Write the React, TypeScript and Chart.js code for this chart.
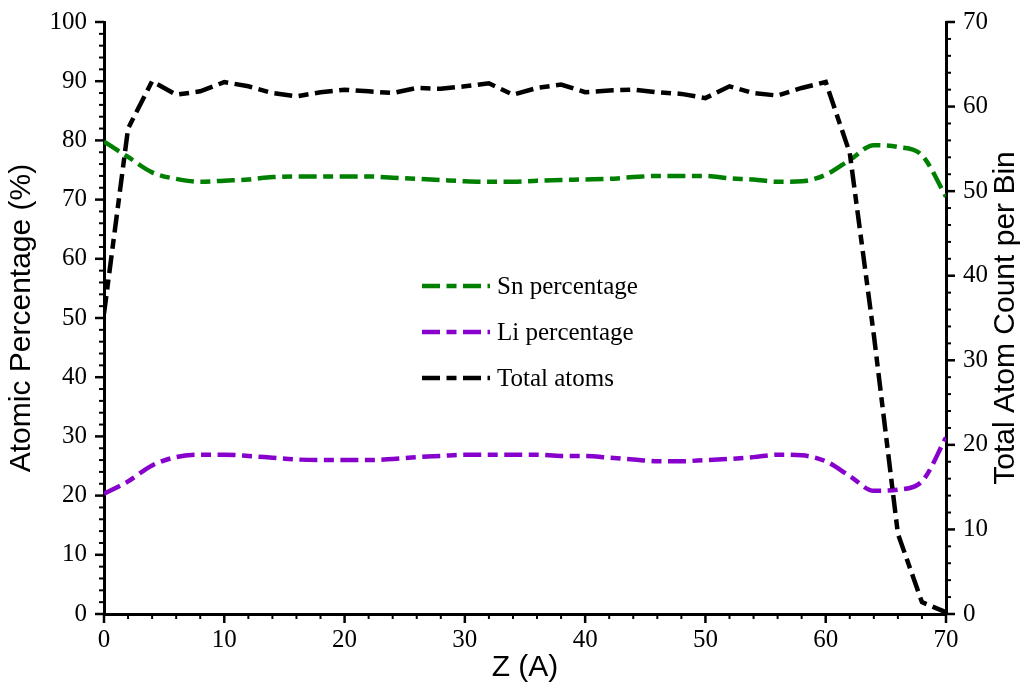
import React, { useEffect, useRef } from "react";
import { Chart, registerables } from "chart.js";

Chart.register(...registerables);

// ---- Data ----
const zValues = [
  0, 2, 4, 6, 8, 10, 12, 14, 16, 18, 20, 22, 24, 26, 28, 30, 32, 34,
  36, 38, 40, 42, 44, 46, 48, 50, 52, 54, 56, 58, 60, 62, 64, 66, 68, 70,
];

const snPercentage = [
  79.8, 77.2, 74.6, 73.5, 73.0, 73.2, 73.4, 73.8, 73.9, 73.9, 73.9, 73.9,
  73.7, 73.5, 73.3, 73.1, 73.0, 73.0, 73.2, 73.3, 73.4, 73.5, 73.8, 74.0,
  74.0, 74.0, 73.6, 73.4, 73.0, 73.1, 74.2, 76.7, 79.2, 78.9, 77.5, 70.5,
];

const liPercentage = [
  20.3, 22.4, 25.1, 26.5, 26.9, 26.9, 26.7, 26.4, 26.1, 26.0, 26.0, 26.0,
  26.2, 26.5, 26.7, 26.9, 26.9, 26.9, 26.9, 26.7, 26.7, 26.4, 26.1, 25.8,
  25.8, 26.0, 26.2, 26.5, 26.9, 26.8, 25.8, 23.3, 20.8, 21.0, 22.4, 29.8,
];

const totalAtoms = [
  35.5, 57.4, 63.0, 61.4, 61.8, 62.9, 62.4, 61.6, 61.2, 61.7, 62.0, 61.8,
  61.6, 62.2, 62.1, 62.4, 62.75, 61.4, 62.2, 62.6, 61.7, 61.9, 62.0, 61.7,
  61.5, 61.0, 62.4, 61.6, 61.3, 62.2, 62.9, 54.5, 33.0, 9.5, 1.4, 0.2,
];

const seriesLabels = ["Sn percentage", "Li percentage", "Total atoms"];
const seriesColors = ["#008000", "#8800cc", "#000000"];

const xRange = [0, 70];
const leftRange = [0, 100];
const rightRange = [0, 70];
const majorStep = 10;
const minorStep = 2;

const xTitle = "Z (A)";
const leftTitle = "Atomic Percentage (%)";
const rightTitle = "Total Atom Count per Bin";

// ---- Styles ----
const SERIF = '"Liberation Serif", "Times New Roman", serif';
const SANS = '"Liberation Sans", Arial, sans-serif';
const DASH = [18, 6.5, 10, 6.5];
const LINE_W = 4.5;

const ticksPlugin = {
  id: "axisTicks",
  afterDraw(chart: any) {
    const ctx = chart.ctx;
    const { x, y, y1 } = chart.scales;
    ctx.save();
    ctx.strokeStyle = "#000";
    ctx.lineCap = "butt";
    const drawLine = (x0: number, y0: number, x1: number, y1_: number, w: number) => {
      ctx.lineWidth = w;
      ctx.beginPath();
      ctx.moveTo(x0, y0);
      ctx.lineTo(x1, y1_);
      ctx.stroke();
    };
    for (let v = xRange[0]; v <= xRange[1]; v += minorStep) {
      const p = x.getPixelForValue(v);
      const major = v % majorStep === 0;
      drawLine(p, x.top, p, x.top + (major ? 9 : 5), major ? 2.5 : 2);
    }
    for (let v = leftRange[0]; v <= leftRange[1]; v += minorStep) {
      const p = y.getPixelForValue(v);
      const major = v % majorStep === 0;
      drawLine(y.right, p, y.right - (major ? 9 : 5), p, major ? 2.5 : 2);
    }
    for (let v = rightRange[0]; v <= rightRange[1]; v += minorStep) {
      const p = y1.getPixelForValue(v);
      const major = v % majorStep === 0;
      drawLine(y1.left, p, y1.left + (major ? 9 : 5), p, major ? 2.5 : 2);
    }
    ctx.fillStyle = "#000";
    ctx.font = `30px ${SANS}`;
    ctx.textAlign = "center";
    ctx.textBaseline = "middle";
    ctx.translate(1006, (chart.chartArea.top + chart.chartArea.bottom) / 2);
    ctx.rotate(-Math.PI / 2);
    ctx.fillText(rightTitle, 0, 0);
    ctx.restore();
  },
};

const legendPlugin = {
  id: "innerLegend",
  afterDatasetsDraw(chart: any) {
    const ctx = chart.ctx;
    const rows = [286, 332, 378];
    ctx.save();
    seriesLabels.forEach((label, i) => {
      const ry = rows[i];
      ctx.strokeStyle = seriesColors[i];
      ctx.lineWidth = LINE_W;
      ctx.lineCap = "butt";
      ctx.setLineDash(DASH);
      ctx.beginPath();
      ctx.moveTo(422, ry);
      ctx.lineTo(490, ry);
      ctx.stroke();
      ctx.setLineDash([]);
      ctx.fillStyle = "#000";
      ctx.font = `25px ${SERIF}`;
      ctx.textAlign = "left";
      ctx.textBaseline = "alphabetic";
      ctx.fillText(label, 497, ry + 8);
    });
    ctx.restore();
  },
};

export default function App() {
  const canvasRef = useRef<HTMLCanvasElement | null>(null);

  useEffect(() => {
    const canvas = canvasRef.current;
    if (!canvas) return;

    const toPoints = (vals: number[]) => zValues.map((z, i) => ({ x: z, y: vals[i] }));

    const fitVertical = (w: number) => (s: any) => {
      s.width = w;
      s.paddingTop = 0;
      s.paddingBottom = 0;
    };

    const chart = new Chart(canvas, {
      type: "line",
      data: {
        datasets: [
          {
            label: seriesLabels[2],
            data: toPoints(totalAtoms),
            yAxisID: "y1",
            borderColor: seriesColors[2],
            borderWidth: LINE_W,
            borderDash: DASH,
            borderCapStyle: "butt",
            pointRadius: 0,
            tension: 0,
            fill: false,
            order: 0,
          },
          {
            label: seriesLabels[0],
            data: toPoints(snPercentage),
            yAxisID: "y",
            borderColor: seriesColors[0],
            borderWidth: LINE_W,
            borderDash: DASH,
            borderCapStyle: "butt",
            pointRadius: 0,
            cubicInterpolationMode: "monotone",
            fill: false,
            order: 1,
          },
          {
            label: seriesLabels[1],
            data: toPoints(liPercentage),
            yAxisID: "y",
            borderColor: seriesColors[1],
            borderWidth: LINE_W,
            borderDash: DASH,
            borderCapStyle: "butt",
            pointRadius: 0,
            cubicInterpolationMode: "monotone",
            fill: false,
            order: 2,
          },
        ],
      },
      options: {
        responsive: false,
        animation: false,
        events: [],
        layout: { padding: { top: 22, left: 0, right: 0, bottom: 0 } },
        plugins: {
          legend: { display: false },
          tooltip: { enabled: false },
        },
        scales: {
          x: {
            type: "linear",
            min: xRange[0],
            max: xRange[1],
            afterFit: (s: any) => {
              s.height = 76;
              s.paddingLeft = 0;
              s.paddingRight = 0;
            },
            ticks: {
              stepSize: majorStep,
              padding: 11,
              color: "#000",
              font: { family: SERIF, size: 25 },
              maxRotation: 0,
              autoSkip: false,
            },
            grid: { display: true, drawOnChartArea: false, drawTicks: false },
            border: { display: true, color: "#000", width: 3 },
            title: {
              display: true,
              text: xTitle,
              color: "#000",
              font: { family: SANS, size: 30 },
              padding: { top: 0, bottom: 4 },
            },
          },
          y: {
            type: "linear",
            position: "left",
            min: leftRange[0],
            max: leftRange[1],
            afterFit: fitVertical(104),
            ticks: {
              stepSize: majorStep,
              padding: 17,
              color: "#000",
              font: { family: SERIF, size: 25 },
            },
            grid: { display: true, drawOnChartArea: false, drawTicks: false },
            border: { display: true, color: "#000", width: 3 },
            title: {
              display: true,
              text: leftTitle,
              color: "#000",
              font: { family: SANS, size: 30 },
              padding: { top: 4, bottom: 0 },
            },
          },
          y1: {
            type: "linear",
            position: "right",
            min: rightRange[0],
            max: rightRange[1],
            afterFit: fitVertical(78),
            ticks: {
              stepSize: majorStep,
              padding: 17,
              color: "#000",
              font: { family: SERIF, size: 25 },
            },
            grid: { display: true, drawOnChartArea: false, drawTicks: false },
            border: { display: true, color: "#000", width: 3 },
          },
        },
      },
      plugins: [ticksPlugin, legendPlugin],
    } as any);

    return () => {
      chart.destroy();
    };
  }, []);

  return (
    <div style={{ position: "fixed", left: 0, top: 0, width: 1024, height: 690, background: "#fff" }}>
      <canvas ref={canvasRef} width={1024} height={690} style={{ display: "block" }} />
    </div>
  );
}
